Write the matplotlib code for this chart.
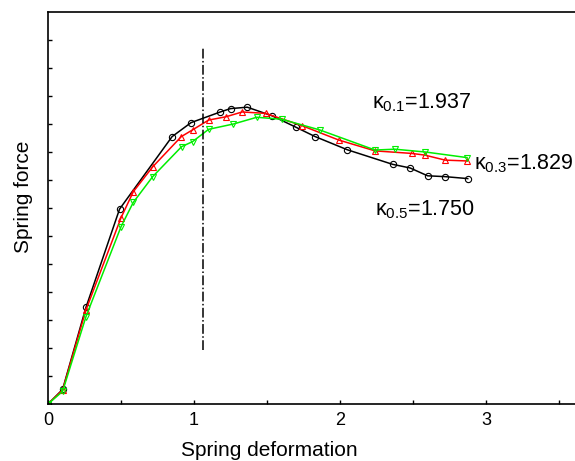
import matplotlib.pyplot as plt
import numpy as np

plt.rcParams['font.family'] = ['Liberation Sans', 'DejaVu Sans']
plt.rcParams['mathtext.fontset'] = 'custom'
plt.rcParams['mathtext.rm'] = 'Liberation Sans'
plt.rcParams['mathtext.it'] = 'Liberation Sans'

# kappa = 0.1 (black circles)
x_k1 = [0, 0.10, 0.26, 0.49, 0.85, 0.98, 1.18, 1.25, 1.365, 1.536, 1.70, 1.83,
        2.05, 2.36, 2.48, 2.60, 2.72, 2.875]
y_k1 = [0, 0.52, 3.45, 6.96, 9.55, 10.05, 10.43, 10.55, 10.6, 10.29, 9.88, 9.55,
        9.08, 8.56, 8.43, 8.15, 8.12, 8.05]

# kappa = 0.3 (red up-triangles)
x_k3 = [0, 0.10, 0.26, 0.50, 0.584, 0.717, 0.913, 0.99, 1.10, 1.22, 1.33, 1.49,
        1.74, 1.99, 2.24, 2.49, 2.58, 2.72, 2.87]
y_k3 = [0, 0.50, 3.36, 6.65, 7.58, 8.47, 9.55, 9.79, 10.14, 10.26, 10.43, 10.38,
        9.94, 9.43, 9.04, 8.95, 8.89, 8.71, 8.68]

# kappa = 0.5 (green down-triangles)
x_k5 = [0, 0.10, 0.26, 0.50, 0.584, 0.717, 0.915, 0.99, 1.10, 1.27, 1.43, 1.60,
        1.86, 2.24, 2.375, 2.585, 2.87]
y_k5 = [0, 0.45, 3.12, 6.33, 7.2, 8.12, 9.19, 9.37, 9.81, 10.0, 10.24, 10.17,
        9.79, 9.07, 9.1, 9.0, 8.8]

# dash-dot marker line
vline_x = 1.06
vline_y = (1.93, 12.7)

labels = [r'$\mathregular{\kappa_{0.1}}$=1.937',
          r'$\mathregular{\kappa_{0.3}}$=1.829',
          r'$\mathregular{\kappa_{0.5}}$=1.750']
label_pos = [(2.22, 10.75), (2.92, 8.6), (2.24, 6.95)]

W, H = 575, 461
fig = plt.figure(figsize=(W / 100, H / 100), dpi=100)
x_max = 3.7
ax = fig.add_axes([48 / W, (H - 404) / H, x_max * 146 / W, 392 / H])

lw = 1.1
ax.plot(x_k1, y_k1, color='black', lw=lw, marker='o', ms=4.5, mfc='none', mew=0.8)
ax.plot(x_k3, y_k3, color='red', lw=lw, marker='^', ms=5, mfc='none', mew=0.8)
ax.plot(x_k5, y_k5, color='#00ee00', lw=lw, marker='v', ms=5, mfc='none', mew=0.8)
ax.plot([vline_x, vline_x], vline_y, color='black', lw=1.1, ls='-.')

for txt, (tx, ty) in zip(labels, label_pos):
    ax.text(tx, ty, txt, fontsize=15.5, va='center', ha='left')

ax.set_xlim(0, x_max)
ax.set_ylim(0, 14)
ax.set_xticks(np.arange(0, 3.6, 0.5))
ax.set_xticklabels(['0', '', '1', '', '2', '', '3', ''])
ax.set_yticks(np.arange(1, 14))
ax.set_yticklabels([])
ax.tick_params(direction='in', length=3, width=1, labelsize=13, top=False, right=False)
ax.tick_params(axis='x', pad=6)
for s in ax.spines.values():
    s.set_linewidth(1.2)
ax.spines['right'].set_visible(False)

ax.set_xlabel('Spring deformation', fontsize=15)
ax.xaxis.set_label_coords((269 - 48) / (x_max * 146), -0.095)
ax.set_ylabel('Spring force', fontsize=15)
ax.yaxis.set_label_coords(-0.028, (404 - 197) / 392)

fig.savefig('out.png', dpi=100)
